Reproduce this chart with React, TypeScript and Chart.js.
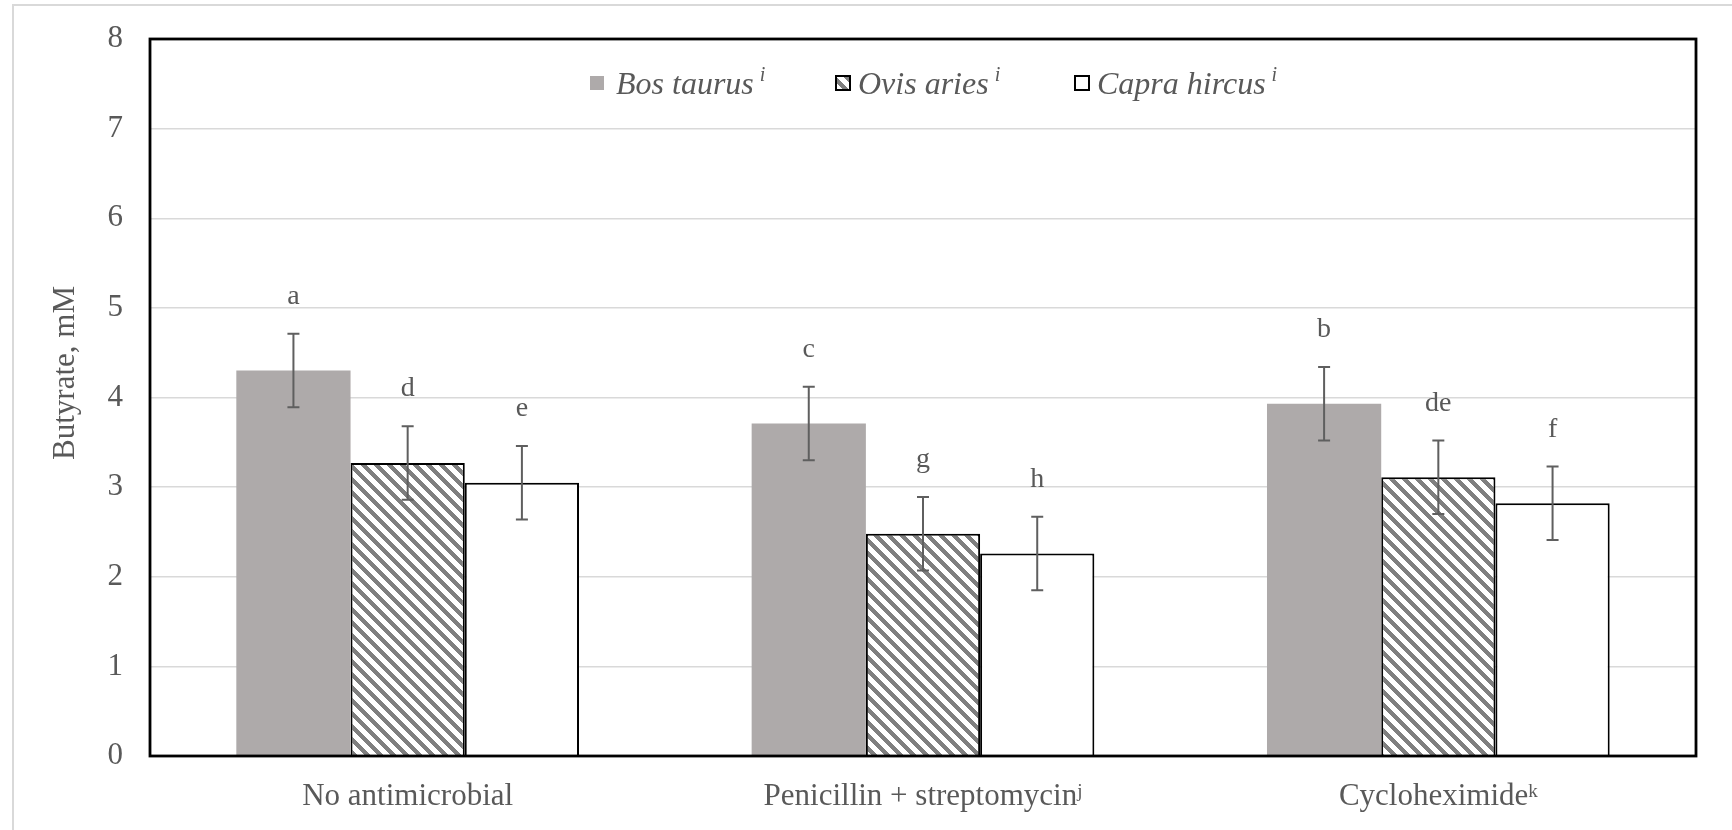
import React, { useEffect, useRef } from "react";
import { Chart, registerables } from "chart.js";

Chart.register(...registerables);

// ---------- data ----------
const categories = ["No antimicrobial", "Penicillin + streptomycin", "Cycloheximide"];
const categorySup = ["", "j", "k"];
const seriesNames = ["Bos taurus", "Ovis aries", "Capra hircus"];
const seriesSup = ["i", "i", "i"];
const bosTaurus = [4.3, 3.71, 3.93];
const ovisAries = [3.27, 2.48, 3.11];
const capraHircus = [3.05, 2.26, 2.82];
const bosErr = [0.41, 0.41, 0.41];
const ovisErr = [0.41, 0.41, 0.41];
const capraErr = [0.41, 0.41, 0.41];
const bosLetters = ["a", "c", "b"];
const ovisLetters = ["d", "g", "de"];
const capraLetters = ["e", "h", "f"];
const yMin = 0;
const yMax = 8;
const yStep = 1;
const yTitle = "Butyrate, mM";

const errors = [bosErr, ovisErr, capraErr];
const letters = [bosLetters, ovisLetters, capraLetters];

const FONT = "'Liberation Serif', 'Times New Roman', serif";
const TEXT = "#595959";
const GRAY = "#aeaaaa";
const STRIPE = "#7f7f7f";

function makeHatch(): CanvasPattern | string {
  const p = 13;
  const s = 6;
  const c = document.createElement("canvas");
  c.width = p;
  c.height = p;
  const ctx = c.getContext("2d");
  if (!ctx) return STRIPE;
  const img = ctx.createImageData(p, p);
  for (let y = 0; y < p; y++) {
    for (let x = 0; x < p; x++) {
      const k = (((x - y) % p) + p) % p;
      const on = k < s;
      const i = (y * p + x) * 4;
      const v = on ? 0x7f : 0xff;
      img.data[i] = v;
      img.data[i + 1] = v;
      img.data[i + 2] = v;
      img.data[i + 3] = 255;
    }
  }
  ctx.putImageData(img, 0, 0);
  const pat = ctx.createPattern(c, "repeat");
  return pat || STRIPE;
}

export default function App() {
  const ref = useRef<HTMLCanvasElement | null>(null);

  useEffect(() => {
    if (!ref.current) return;
    const hatch = makeHatch();

    const overlay = {
      id: "overlay",
      afterDatasetsDraw(chart: any) {
        const ctx = chart.ctx as CanvasRenderingContext2D;
        const yS = chart.scales.y;
        const xS = chart.scales.x;
        const area = chart.chartArea;

        // error bars + letters
        chart.data.datasets.forEach((ds: any, di: number) => {
          const meta = chart.getDatasetMeta(di);
          meta.data.forEach((el: any, j: number) => {
            const v = ds.data[j] as number;
            const e = errors[di][j];
            const x = el.x;
            const yt = yS.getPixelForValue(v + e);
            const yb = yS.getPixelForValue(v - e);
            ctx.save();
            ctx.strokeStyle = "#5f5f5f";
            ctx.lineWidth = 2;
            ctx.beginPath();
            ctx.moveTo(x, yt);
            ctx.lineTo(x, yb);
            ctx.moveTo(x - 6, yt);
            ctx.lineTo(x + 6, yt);
            ctx.moveTo(x - 6, yb);
            ctx.lineTo(x + 6, yb);
            ctx.stroke();
            ctx.fillStyle = TEXT;
            ctx.font = `28px ${FONT}`;
            ctx.textAlign = "center";
            ctx.textBaseline = "alphabetic";
            ctx.fillText(letters[di][j], x, yt - 30);
            ctx.restore();
          });
        });

        // plot frame
        ctx.save();
        ctx.strokeStyle = "#000000";
        ctx.lineWidth = 2.8;
        ctx.strokeRect(area.left, area.top, area.right - area.left, area.bottom - area.top);
        ctx.restore();

        // x labels with superscripts
        ctx.save();
        ctx.fillStyle = TEXT;
        ctx.textBaseline = "alphabetic";
        ctx.textAlign = "left";
        categories.forEach((lab, j) => {
          const cx = xS.getPixelForValue(j);
          ctx.font = `31px ${FONT}`;
          const w = ctx.measureText(lab).width;
          ctx.font = `19px ${FONT}`;
          const ws = categorySup[j] ? ctx.measureText(categorySup[j]).width : 0;
          const start = cx - (w + ws) / 2;
          ctx.font = `31px ${FONT}`;
          ctx.fillText(lab, start, 805);
          if (categorySup[j]) {
            ctx.font = `19px ${FONT}`;
            ctx.fillText(categorySup[j], start + w, 797);
          }
        });
        ctx.restore();

        // y title
        ctx.save();
        ctx.fillStyle = TEXT;
        ctx.font = `31px ${FONT}`;
        ctx.translate(66, 373);
        ctx.rotate(-Math.PI / 2);
        ctx.textAlign = "center";
        ctx.textBaseline = "middle";
        ctx.fillText(yTitle, 0, 0);
        ctx.restore();

        // legend
        const boxX = [590, 836, 1075];
        const textX = [616, 858, 1097];
        ctx.save();
        chart.data.datasets.forEach((ds: any, di: number) => {
          const bx = boxX[di];
          const by = 76;
          const bs = 14;
          if (di === 0) {
            ctx.fillStyle = GRAY;
            ctx.fillRect(bx, by, bs, bs);
          } else {
            ctx.fillStyle = di === 1 ? (hatch as any) : "#ffffff";
            ctx.fillRect(bx, by, bs, bs);
            ctx.strokeStyle = "#000000";
            ctx.lineWidth = 2;
            ctx.strokeRect(bx, by, bs, bs);
          }
          ctx.fillStyle = TEXT;
          ctx.textAlign = "left";
          ctx.textBaseline = "alphabetic";
          ctx.font = `italic 32px ${FONT}`;
          const w = ctx.measureText(seriesNames[di]).width;
          ctx.fillText(seriesNames[di], textX[di], 94);
          ctx.font = `italic 20px ${FONT}`;
          ctx.fillText(seriesSup[di], textX[di] + w + 6, 81);
        });
        ctx.restore();
      },
    };

    const chart = new Chart(ref.current, {
      type: "bar",
      data: {
        labels: categories,
        datasets: [
          {
            label: seriesNames[0],
            data: bosTaurus,
            backgroundColor: GRAY,
            borderWidth: 0,
          },
          {
            label: seriesNames[1],
            data: ovisAries,
            backgroundColor: hatch as any,
            borderColor: "#000000",
            borderWidth: 2,
          },
          {
            label: seriesNames[2],
            data: capraHircus,
            backgroundColor: "#ffffff",
            borderColor: "#000000",
            borderWidth: 2,
          },
        ],
      },
      options: {
        animation: false,
        responsive: false,
        devicePixelRatio: 1,
        layout: { padding: { left: 0, right: 36, top: 39, bottom: 74 } },
        datasets: { bar: { categoryPercentage: 0.665, barPercentage: 1 } },
        plugins: {
          legend: { display: false },
          tooltip: { enabled: false },
        },
        scales: {
          x: {
            grid: { display: false },
            border: { display: false },
            ticks: { display: false },
            afterFit: (s: any) => {
              s.height = 0;
              s.paddingLeft = 0;
              s.paddingRight = 0;
            },
          },
          y: {
            min: yMin,
            max: yMax,
            ticks: {
              stepSize: yStep,
              color: TEXT,
              font: { family: FONT, size: 31 },
              padding: 27,
            },
            grid: { color: "#d9d9d9", lineWidth: 1.5, drawTicks: false, tickLength: 0 },
            border: { display: false },
            afterFit: (s: any) => {
              s.width = 150;
              s.paddingTop = 0;
              s.paddingBottom = 0;
            },
          },
        },
      },
      plugins: [overlay],
    } as any);

    return () => chart.destroy();
  }, []);

  return (
    <div style={{ position: "absolute", left: 0, top: 0, width: 1732, height: 830, background: "#ffffff", overflow: "hidden" }}>
      <div
        style={{
          position: "absolute",
          left: 12,
          top: 4,
          width: 1800,
          height: 900,
          borderLeft: "2px solid #d9d9d9",
          borderTop: "2px solid #d9d9d9",
        }}
      />
      <canvas ref={ref} width={1732} height={830} style={{ position: "absolute", left: 0, top: 0, width: 1732, height: 830 }} />
    </div>
  );
}
